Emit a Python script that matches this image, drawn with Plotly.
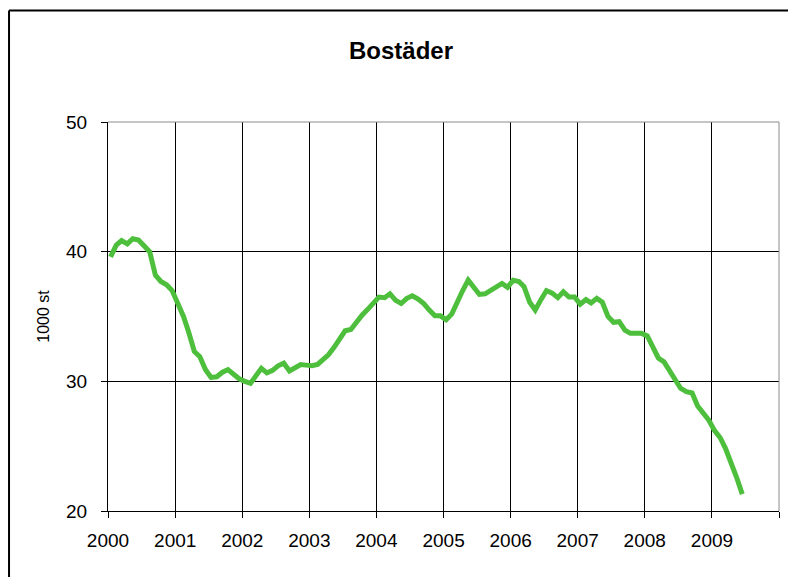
import pandas as pd
import plotly.graph_objects as go

# Bostäder, månadsvärden jan 2000 - jun 2009 (1000 st)

manader = pd.date_range('2000-01-01', periods=114, freq='MS') + pd.Timedelta(days=14)

bostader = [
    39.6, 40.5, 40.85, 40.6, 41.0, 40.9, 40.45, 40.0, 38.2, 37.7, 37.45, 37.0,
    36.0, 35.0, 33.8, 32.3, 31.9, 30.9, 30.3, 30.35, 30.7, 30.9, 30.55, 30.2,
    30.0, 29.85, 30.4, 31.0, 30.65, 30.85, 31.2, 31.4, 30.8, 31.05, 31.3, 31.25,
    31.2, 31.3, 31.6, 32.05, 32.6, 33.25, 33.9, 34.0, 34.6, 35.1, 35.55, 36.0,
    36.5, 36.45, 36.75, 36.25, 36.0, 36.4, 36.6, 36.35, 36.0, 35.5, 35.05, 35.05,
    34.75, 35.2, 36.1, 37.0, 37.8, 37.25, 36.7, 36.75, 37.05, 37.3, 37.55, 37.25,
    37.8, 37.7, 37.3, 36.1, 35.5, 36.3, 37.0, 36.8, 36.45, 36.9, 36.5, 36.5,
    35.95, 36.3, 36.05, 36.4, 36.1, 35.0, 34.55, 34.6, 33.95, 33.7, 33.7, 33.7,
    33.5, 32.6, 31.8, 31.5, 30.85, 30.15, 29.45, 29.2, 29.1, 28.1, 27.6, 27.0,
    26.2, 25.65, 24.85, 23.75, 22.6, 21.3,
]

ar = [str(a) for a in range(2000, 2011)]
ar_etiketter = ar[:-1] + ['']
y_ticks = [20, 30, 40, 50]

font = 'Liberation Sans, Arial, sans-serif'

fig = go.Figure()
fig.add_trace(go.Scatter(x=manader, y=bostader, mode='lines',
                         line=dict(color='#4dbf3c', width=5),
                         showlegend=False, hoverinfo='skip'))

fig.update_layout(
    width=788, height=569,
    margin=dict(l=100, r=17, t=114, b=66),
    paper_bgcolor='white', plot_bgcolor='white',
    font=dict(family=font, size=19, color='black'),
    title=dict(text='<b>Bostäder</b>', x=0.4987, xref='container', xanchor='center',
               y=1 - 43 / 569, yanchor='middle', font=dict(size=24, color='black')),
)

fig.update_xaxes(
    type='date', range=['2000-01-01', '2010-01-01'],
    tickvals=[a + '-01-01' for a in ar], ticktext=ar_etiketter,
    showgrid=True, gridcolor='black', gridwidth=1,
    showline=True, linecolor='black', linewidth=1,
    ticks='outside', ticklen=6, tickcolor='black', ticklabelstandoff=6,
    zeroline=False,
)
fig.update_yaxes(
    range=[20, 50], tickvals=y_ticks,
    showgrid=True, gridcolor='black', gridwidth=1,
    showline=True, linecolor='black', linewidth=1,
    ticks='outside', ticklen=6, tickcolor='black', ticklabelstandoff=10,
    zeroline=False,
    title=dict(text='1000 st', font=dict(size=16), standoff=12),
)

# grå ram upptill och till höger
fig.add_shape(type='line', xref='paper', yref='paper', x0=0, x1=1, y0=1, y1=1,
              line=dict(color='#8c8c8c', width=1), layer='above')
fig.add_shape(type='line', xref='paper', yref='paper', x0=1, x1=1, y0=0, y1=1,
              line=dict(color='#8c8c8c', width=1), layer='above')
# ram runt diagrammet (vänster och övre kant syns)
fig.add_shape(type='line', xref='paper', yref='paper', x0=-0.1475, x1=-0.1475,
              y0=-0.25, y1=1.2866, line=dict(color='black', width=2), layer='above')
fig.add_shape(type='line', xref='paper', yref='paper', x0=-0.1475, x1=1.2,
              y0=1.2866, y1=1.2866, line=dict(color='black', width=2), layer='above')

fig.write_html("out.html")
